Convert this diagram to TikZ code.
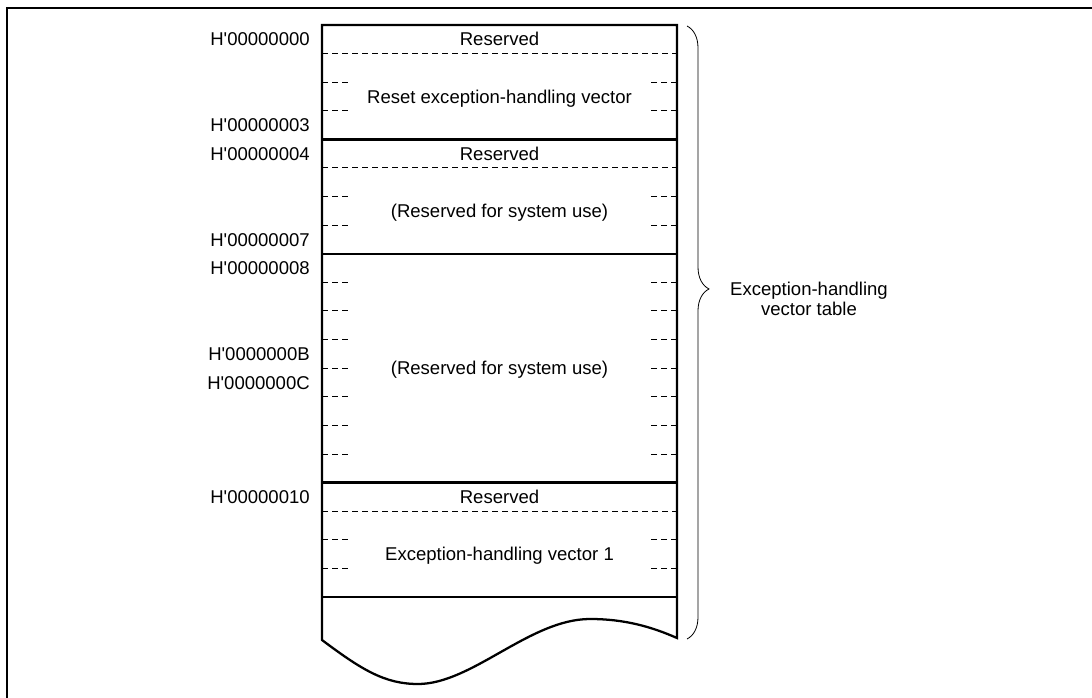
\documentclass[tikz,border=0pt]{standalone}
\usepackage{fontspec}
\setmainfont{Liberation Sans}
\usepackage{tikz}
\usetikzlibrary{decorations.pathreplacing}
\def\shortdash(#1){\draw[dsh] (322, #1) -- (350, #1); \draw[dsh] (677, #1) -- (649, #1);}
\def\Hq{H\textquotesingle}

\tikzset{
	box/.style={line width=1.7pt},
	dsh/.style={line width=0.75pt, dash pattern=on 4.5pt off 3pt},
	lbl/.style={inner sep=0pt, text height=10pt, text depth=0pt, font=\fontsize{13.9}{15}\selectfont},
}

\begin{document}
\begin{tikzpicture}[x=0.75pt, y=-0.75pt]
		%%%%% START %%%%%
		\useasboundingbox (0, 0) rectangle (1092, 698);
		
		\draw[line width=1.5pt] (6.5, 698) -- (6.5, 8.5) -- (1092, 8.5);
		
		% memory block with torn bottom
		\draw[box] (677, 25) -- (677, 638) .. controls (652, 627) and (625, 619) .. (590, 619) .. controls (530, 619) and (472, 684) .. (418, 684) .. controls (385, 684) and (362, 670) .. (322, 640) -- (322, 25) -- cycle;
		\draw[box] (322, 139.4) -- (677, 139.4);
		\draw[box] (322, 253.8) -- (677, 253.8);
		\draw[box] (322, 482.6) -- (677, 482.6);
		\draw[box] (322, 597) -- (677, 597);
		
		\draw[dsh] (322, 53.6) -- (677, 53.6);
		\draw[dsh] (322, 168) -- (677, 168);
		\draw[dsh] (322, 511.2) -- (677, 511.2);
		
		\foreach \k in {2,3,6,7,9,10,...,15,18,19}{
			\pgfmathsetmacro{\yy}{25+28.6*\k}
			\shortdash(\yy)
		}
		
		\node[lbl] (rsv0) at (499.5, 39.3) {Reserved};
		\node[lbl] (reset) at (499.5, 96.5) {Reset exception-handling vector};
		\node[lbl] (rsv4) at (499.5, 153.7) {Reserved};
		\node[lbl] (sys4) at (499.5, 210.9) {(Reserved for system use)};
		\node[lbl] (sys8) at (499.5, 368.2) {(Reserved for system use)};
		\node[lbl] (rsv10) at (499.5, 496.9) {Reserved};
		\node[lbl] (vec1) at (499.5, 554) {Exception-handling vector 1};
		
		% addresses
		\node[lbl, anchor=east] (a0) at (310, 39.3) {\Hq00000000};
		\node[lbl, anchor=east] (a3) at (310, 125.1) {\Hq00000003};
		\node[lbl, anchor=east] (a4) at (310, 153.7) {\Hq00000004};
		\node[lbl, anchor=east] (a7) at (310, 239.5) {\Hq00000007};
		\node[lbl, anchor=east] (a8) at (310, 268.1) {\Hq00000008};
		\node[lbl, anchor=east] (aB) at (310, 353.9) {\Hq0000000B};
		\node[lbl, anchor=east] (aC) at (310, 382.5) {\Hq0000000C};
		\node[lbl, anchor=east] (a10) at (310, 496.9) {\Hq00000010};
		
		% brace
		\coordinate (btop) at (687, 26);
		\coordinate (bbot) at (687, 639);
		\draw[line width=0.6pt, decorate, decoration={brace, amplitude=16.5pt, aspect=0.429}] (btop) -- (bbot);
		\node[inner sep=0pt, align=center, font=\fontsize{13.9}{15}\selectfont] (tbl) at (809, 299) {Exception-handling\\vector table};
		
		%%%%% END %%%%%
	\end{tikzpicture}
\end{document}
